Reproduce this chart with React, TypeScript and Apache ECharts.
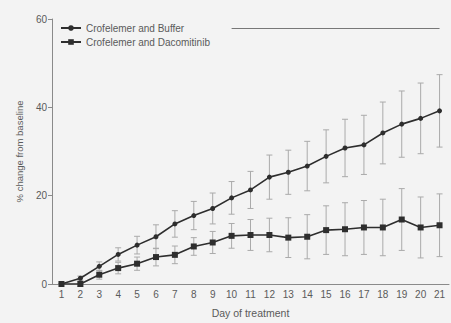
import React, { useEffect, useRef } from "react";
import * as echarts from "echarts";

// Treatment days on the x axis
const days = ["1","2","3","4","5","6","7","8","9","10","11","12","13","14","15","16","17","18","19","20","21"];

// Mean % change from baseline and error (± half bar length) per day
const bufferMean = [0, 1.3, 4.0, 6.7, 8.8, 10.7, 13.6, 15.5, 17.1, 19.5, 21.3, 24.2, 25.3, 26.7, 28.9, 30.8, 31.5, 34.2, 36.2, 37.5, 39.2];
const bufferErr = [0, 0.5, 1.0, 1.5, 2.0, 2.7, 3.0, 3.2, 3.5, 3.7, 4.2, 5.0, 5.0, 5.6, 6.0, 6.5, 6.7, 7.0, 7.5, 8.0, 8.2];
const dacoMean = [0, 0, 2.1, 3.6, 4.6, 6.1, 6.6, 8.5, 9.4, 10.9, 11.1, 11.1, 10.5, 10.7, 12.2, 12.4, 12.8, 12.8, 14.6, 12.8, 13.3];
const dacoErr = [0, 0.5, 1.0, 1.3, 1.5, 2.0, 2.0, 2.0, 2.5, 2.8, 3.5, 3.8, 4.5, 5.0, 5.5, 6.0, 6.1, 6.4, 7.0, 6.9, 7.1];

// y axis ticks
const yTicks = [0, 20, 40, 60];

// Significance bracket: from day 10 to day 21 at this level
const bracketFrom = "10";
const bracketTo = "21";
const bracketLevel = 58;

const seriesNames = ["Crofelemer and Buffer", "Crofelemer and Dacomitinib"];

const FONT = "Liberation Sans, Arial, sans-serif";
const TEXT = "#5a5a5a";
const AXIS = "#8a8a8a";
const LINE = "#2e2e2e";
const ERR = "#aaaaaa";

function errorSeries(mean: number[], err: number[]) {
  return {
    type: "custom",
    silent: true,
    z: 1,
    data: mean.map((m, i) => [i, m - err[i], m + err[i]]),
    renderItem: (params: any, api: any) => {
      const x = api.value(0);
      const lo = api.coord([x, api.value(1)]);
      const hi = api.coord([x, api.value(2)]);
      const cap = 3;
      const style = { stroke: ERR, lineWidth: 1 };
      return {
        type: "group",
        children: [
          { type: "line", shape: { x1: lo[0], y1: lo[1], x2: hi[0], y2: hi[1] }, style },
          { type: "line", shape: { x1: lo[0] - cap, y1: lo[1], x2: lo[0] + cap, y2: lo[1] }, style },
          { type: "line", shape: { x1: hi[0] - cap, y1: hi[1], x2: hi[0] + cap, y2: hi[1] }, style },
        ],
      };
    },
  };
}

export default function App() {
  const ref = useRef<HTMLDivElement>(null);

  useEffect(() => {
    if (!ref.current) return;
    const chart = echarts.init(ref.current, null, { renderer: "svg" });
    chart.setOption({
      animation: false,
      backgroundColor: "#f3f3f3",
      textStyle: { fontFamily: FONT },
      grid: { left: 52, top: 19, width: 397, height: 267 },
      legend: {
        left: 60,
        top: 23,
        padding: 0,
        orient: "vertical",
        itemWidth: 20,
        itemHeight: 7,
        itemGap: 4,
        textStyle: { fontSize: 10, color: TEXT, fontFamily: FONT },
        data: seriesNames,
      },
      xAxis: {
        type: "category",
        data: days,
        boundaryGap: true,
        name: "Day of treatment",
        nameLocation: "middle",
        nameGap: 23,
        nameTextStyle: { fontSize: 10.5, color: TEXT },
        axisLine: { lineStyle: { color: AXIS, width: 1 } },
        axisTick: { alignWithLabel: true, length: 3, lineStyle: { color: AXIS } },
        axisLabel: { fontSize: 10, color: TEXT, margin: 5, interval: 0 },
      },
      yAxis: {
        type: "value",
        min: 0,
        max: 60,
        interval: 20,
        name: "% change from baseline",
        nameLocation: "middle",
        nameGap: 21,
        nameTextStyle: { fontSize: 9.5, color: TEXT },
        axisLine: { show: true, lineStyle: { color: AXIS, width: 1 } },
        axisTick: { show: true, length: 4, lineStyle: { color: AXIS } },
        axisLabel: {
          fontSize: 10,
          color: TEXT,
          margin: 5,
          formatter: (v: number) => (yTicks.includes(v) ? String(v) : ""),
        },
        splitLine: { show: false },
      },
      series: [
        errorSeries(bufferMean, bufferErr),
        errorSeries(dacoMean, dacoErr),
        {
          name: seriesNames[0],
          type: "line",
          z: 3,
          data: bufferMean,
          symbol: "circle",
          symbolSize: 5,
          lineStyle: { color: LINE, width: 1.6 },
          itemStyle: { color: LINE },
          markLine: {
            silent: true,
            symbol: "none",
            label: { show: false },
            lineStyle: { color: "#777", width: 1, type: "solid" },
            data: [[{ xAxis: bracketFrom, yAxis: bracketLevel }, { xAxis: bracketTo, yAxis: bracketLevel }]],
          },
        },
        {
          name: seriesNames[1],
          type: "line",
          z: 3,
          data: dacoMean,
          symbol: "rect",
          symbolSize: 6,
          lineStyle: { color: LINE, width: 1.6 },
          itemStyle: { color: LINE },
        },
      ],
    });
    return () => chart.dispose();
  }, []);

  return (
    <div
      ref={ref}
      style={{ position: "fixed", left: 0, top: 0, width: 451, height: 323 }}
    />
  );
}
